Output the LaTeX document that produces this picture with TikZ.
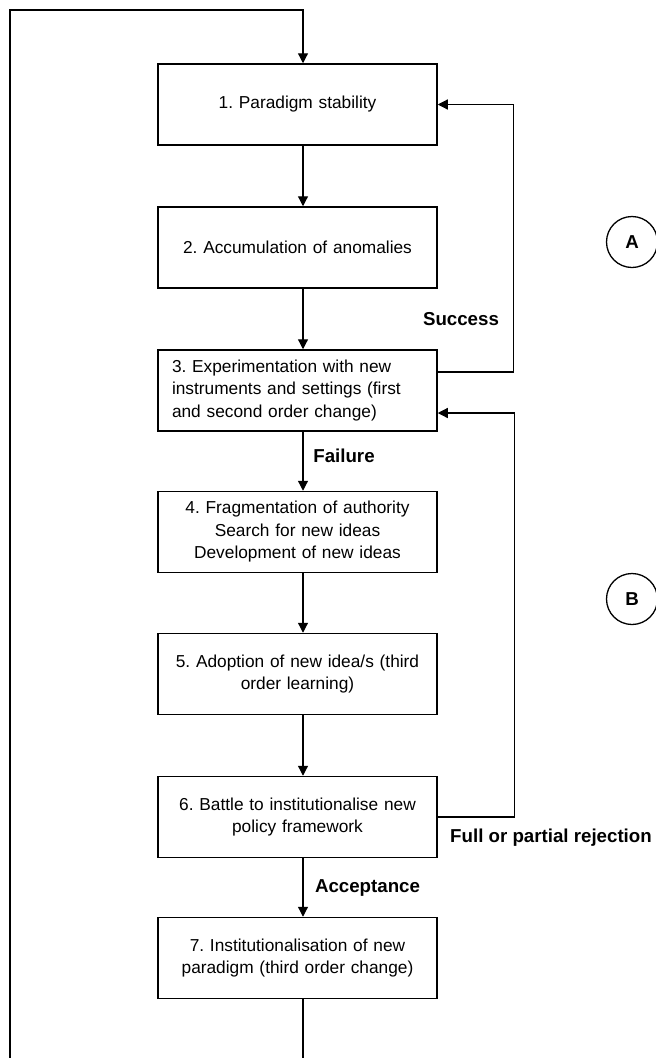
\documentclass[tikz,border=0pt]{standalone}
\usepackage{fontspec}
\setmainfont{Liberation Sans}
\usetikzlibrary{arrows.meta,calc}
\frenchspacing
\begin{document}
\begin{tikzpicture}[x=1pt,y=-1pt,
  box/.style={draw, line width=1.5pt, minimum width=279pt, minimum height=81pt,
    text width=251pt, inner xsep=14pt, inner ysep=0pt, align=center,
    font=\frenchspacing\fontsize{17.3}{22.5}\selectfont},
  conn/.style={line width=1.2pt, -{Triangle[length=10pt,width=10pt]}},
  lbl/.style={font=\fontsize{18.7}{22}\selectfont\bfseries, inner sep=0pt},
  circ/.style={draw, circle, line width=1.3pt, minimum size=51pt, inner sep=0pt,
    font=\fontsize{18.7}{22}\selectfont\bfseries}]
\useasboundingbox (0,0) rectangle (656,1058);
\clip (0,0) rectangle (656,1058);
\coordinate (ax) at (303,0);
\node[box] (b1) at (297.5,104.5) {1. Paradigm stability};
\node[box] (b2) at (297.5,247.5) {2. Accumulation of anomalies};
\node[box, align=left] (b3) at (297.5,390.5) {3. Experimentation with new\\instruments and settings (first\\and second order change)};
\node[box] (b4) at (297.5,532) {4. Fragmentation of authority\\Search for new ideas\\Development of new ideas};
\node[box] (b5) at (297.5,674) {5. Adoption of new idea/s (third\\order learning)};
\node[box] (b6) at (297.5,817) {6. Battle to institutionalise new\\policy framework};
\node[box] (b7) at (297.5,958) {7. Institutionalisation of new\\paradigm (third order change)};
\draw[conn] (b1.south -| ax) -- (b2.north -| ax);
\draw[conn] (b2.south -| ax) -- (b3.north -| ax);
\draw[conn] (b3.south -| ax) -- (b4.north -| ax);
\draw[conn] (b4.south -| ax) -- (b5.north -| ax);
\draw[conn] (b5.south -| ax) -- (b6.north -| ax);
\draw[conn] (b6.south -| ax) -- (b7.north -| ax);
\draw[conn] ([yshift=18.5pt]b3.east) -| ($(b1.east)+(76,0)$) -- (b1.east);
\draw[conn] (b6.east) -| ($([yshift=-22.5pt]b3.east)+(77,0)$) -- ([yshift=-22.5pt]b3.east);
\draw[conn] (b7.south -| ax) -- (303,1080) -- (10,1080) -- (10,10) -- (303,10) -- (b1.north -| ax);
\node[lbl] (ls) at (461,319) {Success};
\node[lbl] (lf) at (344,456) {Failure};
\node[lbl] (la) at (367.5,888) {Acceptance};
\node[lbl, anchor=west] (lr) at (450,838) {Full or partial rejection};
\node[circ] (ca) at (632,242) {A};
\node[circ] (cb) at (632,599) {B};
\end{tikzpicture}
\end{document}
